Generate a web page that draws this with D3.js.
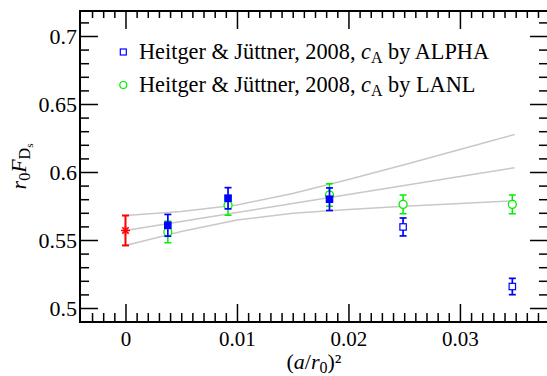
<!DOCTYPE html>
<html>
<head>
<meta charset="utf-8">
<script src="https://cdn.jsdelivr.net/npm/d3@7"></script>
<style>
  body { margin: 0; background: #fff; overflow: hidden; }
  svg { display: block; font-family: "Liberation Serif", "DejaVu Serif", serif; }
</style>
</head>
<body>
<script>
// values
var xsLat = [0.0038, 0.0092, 0.0183, 0.0249, 0.0347];
var alphaVal = [0.5608, 0.5807, 0.5800, 0.5596, 0.5158];
var alphaErr = [0.0080, 0.0078, 0.0083, 0.0066, 0.0060];
var alphaUsed = [true, true, true, false, false];
var lanlVal = [0.5559, 0.5755, 0.5831, 0.5762, 0.5762];
var lanlErr = [0.0079, 0.0073, 0.0083, 0.0069, 0.0069];
var contX = [0], contVal = [0.557], contErr = [0.011];

// fit line and its error band
var fitX   = [0, 0.005, 0.01, 0.015, 0.02, 0.025, 0.03, 0.0349];
var fitMid = [0.557, 0.5636, 0.5702, 0.5769, 0.5835, 0.5901, 0.5967, 0.6032];
var fitUp  = [0.568, 0.5709, 0.5757, 0.5842, 0.5945, 0.6054, 0.6166, 0.6276];
var fitLo  = [0.546, 0.5563, 0.5647, 0.5696, 0.5725, 0.5748, 0.5769, 0.5788];

var xTicks = [0, 0.01, 0.02, 0.03];
var yTicks = [0.5, 0.55, 0.6, 0.65, 0.7];
var legendLabels = ["ALPHA", "LANL"];

var W = 547, H = 376;
var mLeft = 80, mRight = 548, mTop = 11, mBottom = 322;

var svg = d3.select("body").append("svg")
    .attr("width", W).attr("height", H);

var x = d3.scaleLinear().domain([-0.00408, 0.0379]).range([mLeft, mRight]);
var y = d3.scaleLinear().domain([0.48971, 0.71838]).range([mBottom, mTop]);

var xMinor = d3.range(-3, 38).map(d => d / 1000).filter(d => xTicks.indexOf(d) < 0);
var yMinor = d3.range(49, 72).map(d => d / 100).filter(d => yTicks.indexOf(d) < 0);

function axisStyle(g) {
    g.select(".domain").remove();
    g.selectAll(".tick line").attr("stroke", "#000").attr("stroke-width", 1.5);
}

// bottom
svg.append("g").attr("transform", "translate(0," + mBottom + ")")
    .call(d3.axisBottom(x).tickValues(xMinor).tickSize(-9).tickFormat(""))
    .call(axisStyle);
svg.append("g").attr("transform", "translate(0," + mBottom + ")")
    .call(d3.axisBottom(x).tickValues(xTicks).tickSize(-18).tickPadding(9).tickFormat(d3.format("")))
    .call(axisStyle)
    .call(g => g.selectAll("text").attr("font-size", 21).attr("fill", "#000")
        .attr("font-family", "Liberation Serif"));
// top
svg.append("g").attr("transform", "translate(0," + mTop + ")")
    .call(d3.axisTop(x).tickValues(xMinor).tickSize(-7).tickFormat(""))
    .call(axisStyle);
svg.append("g").attr("transform", "translate(0," + mTop + ")")
    .call(d3.axisTop(x).tickValues(xTicks).tickSize(-18).tickFormat(""))
    .call(axisStyle);
// left
svg.append("g").attr("transform", "translate(" + mLeft + ",0)")
    .call(d3.axisLeft(y).tickValues(yMinor).tickSize(-9).tickFormat(""))
    .call(axisStyle);
svg.append("g").attr("transform", "translate(" + mLeft + ",0)")
    .call(d3.axisLeft(y).tickValues(yTicks).tickSize(-18).tickPadding(3).tickFormat(d3.format("")))
    .call(axisStyle)
    .call(g => g.selectAll("text").attr("font-size", 22).attr("fill", "#000")
        .attr("font-family", "Liberation Serif"));
// right
svg.append("g").attr("transform", "translate(" + mRight + ",0)")
    .call(d3.axisRight(y).tickValues(yMinor).tickSize(-9).tickFormat(""))
    .call(axisStyle);
svg.append("g").attr("transform", "translate(" + mRight + ",0)")
    .call(d3.axisRight(y).tickValues(yTicks).tickSize(-18).tickFormat(""))
    .call(axisStyle);

// frame
svg.append("rect")
    .attr("x", mLeft).attr("y", mTop)
    .attr("width", mRight - mLeft).attr("height", mBottom - mTop)
    .attr("fill", "none").attr("stroke", "#000").attr("stroke-width", 2);

// fit curves
var line = d3.line().x(d => x(d[0])).y(d => y(d[1]));
[fitUp, fitMid, fitLo].forEach(function(arr) {
    svg.append("path")
        .datum(fitX.map((v, i) => [v, arr[i]]))
        .attr("d", line)
        .attr("fill", "none")
        .attr("stroke", "#c8c8c8")
        .attr("stroke-width", 1.5);
});

function errorBars(xsArr, vals, errs, color, sw) {
    var g = svg.append("g").attr("stroke", color).attr("stroke-width", sw);
    xsArr.forEach(function(xv, i) {
        var cx = x(xv), y0 = y(vals[i] - errs[i]), y1 = y(vals[i] + errs[i]);
        g.append("line").attr("x1", cx).attr("x2", cx).attr("y1", y0).attr("y2", y1);
        g.append("line").attr("x1", cx - 3.5).attr("x2", cx + 3.5).attr("y1", y0).attr("y2", y0);
        g.append("line").attr("x1", cx - 3.5).attr("x2", cx + 3.5).attr("y1", y1).attr("y2", y1);
    });
}

// LANL (green circles)
errorBars(xsLat, lanlVal, lanlErr, "#00ee00", 1.5);
svg.append("g").selectAll("circle")
    .data(xsLat).enter().append("circle")
    .attr("cx", d => x(d))
    .attr("cy", (d, i) => y(lanlVal[i]))
    .attr("r", 4)
    .attr("fill", "#fff")
    .attr("stroke", "#00ee00")
    .attr("stroke-width", 1.3);

// ALPHA (blue squares)
errorBars(xsLat, alphaVal, alphaErr, "#0000ff", 1.7);
svg.append("g").selectAll("rect")
    .data(xsLat).enter().append("rect")
    .attr("x", d => x(d) - 3.2)
    .attr("y", (d, i) => y(alphaVal[i]) - 3.2)
    .attr("width", 6.4).attr("height", 6.4)
    .attr("fill", (d, i) => alphaUsed[i] ? "#0000ff" : "#fff")
    .attr("stroke", "#0000ff")
    .attr("stroke-width", 1.2);

// continuum value (red star)
errorBars(contX, contVal, contErr, "#ff0000", 2);
contX.forEach(function(xv, i) {
    var cx = x(xv), cy = y(contVal[i]), r = 4.5;
    var star = svg.append("g").attr("stroke", "#ff0000").attr("stroke-width", 1.6);
    [0, 45, 90, 135].forEach(function(a) {
        var rad = a * Math.PI / 180;
        star.append("line")
            .attr("x1", cx - r * Math.cos(rad)).attr("y1", cy - r * Math.sin(rad))
            .attr("x2", cx + r * Math.cos(rad)).attr("y2", cy + r * Math.sin(rad));
    });
});

// legend
var legY = [52, 85];
legendLabels.forEach(function(lab, i) {
    if (i == 0) {
        svg.append("rect").attr("x", 123.3 - 3).attr("y", legY[i] - 3)
            .attr("width", 6).attr("height", 6)
            .attr("fill", "#fff").attr("stroke", "#0000ff").attr("stroke-width", 1.2);
    } else {
        svg.append("circle").attr("cx", 123.3).attr("cy", legY[i]).attr("r", 3.5)
            .attr("fill", "#fff").attr("stroke", "#00ee00").attr("stroke-width", 1.2);
    }
    var t = svg.append("text").attr("x", 139).attr("y", legY[i] + 7)
        .attr("font-size", 22.3).attr("fill", "#000");
    t.append("tspan").text("Heitger & Jüttner, 2008, ");
    t.append("tspan").attr("font-style", "italic").text("c");
    t.append("tspan").attr("font-size", 16).attr("dy", 4).text("A");
    t.append("tspan").attr("dy", -4).text(" by " + lab);
});

// x title
var xt = svg.append("text")
    .attr("x", (mLeft + mRight) / 2).attr("y", 369)
    .attr("text-anchor", "middle").attr("font-size", 22).attr("fill", "#000");
xt.append("tspan").text("(");
xt.append("tspan").attr("font-style", "italic").text("a");
xt.append("tspan").text("/");
xt.append("tspan").attr("font-style", "italic").text("r");
xt.append("tspan").attr("font-size", 16).attr("dy", 4).text("0");
xt.append("tspan").attr("dy", -4).text(")²");

// y title
var yt = svg.append("text")
    .attr("transform", "translate(26," + ((mTop + mBottom) / 2) + ") rotate(-90)")
    .attr("text-anchor", "middle").attr("font-size", 22).attr("fill", "#000");
yt.append("tspan").attr("font-style", "italic").text("r");
yt.append("tspan").attr("font-size", 16).attr("dy", 4).text("0");
yt.append("tspan").attr("font-style", "italic").attr("dy", -4).text("F");
yt.append("tspan").attr("font-size", 16).attr("dy", 4).text("D");
yt.append("tspan").attr("font-size", 11).attr("dy", 3).text("s");
</script>
</body>
</html>
